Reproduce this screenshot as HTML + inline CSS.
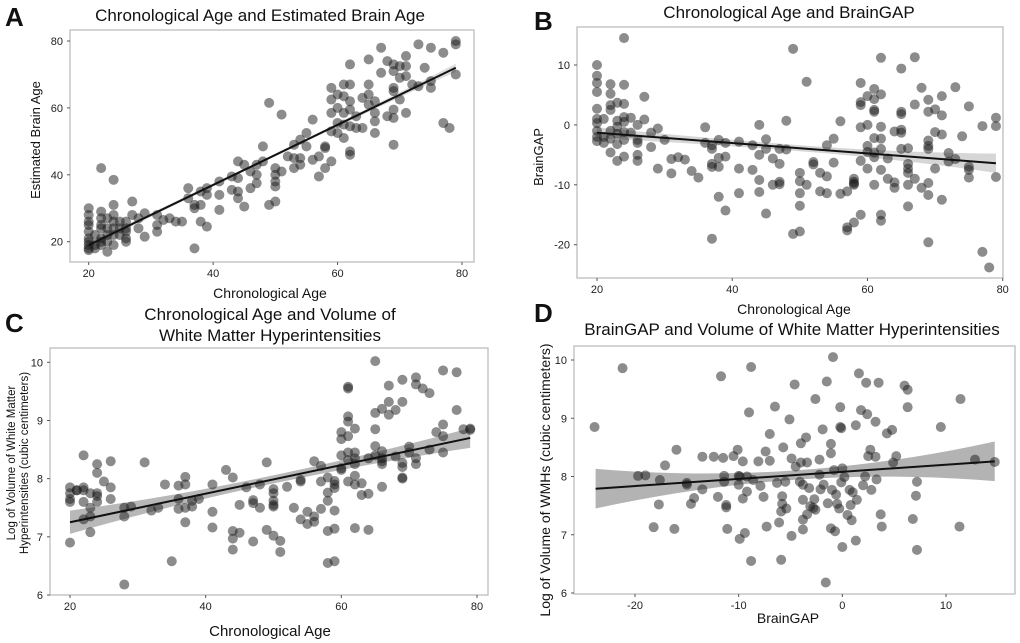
<!DOCTYPE html>
<html><head><meta charset="utf-8"><style>
body{margin:0;background:#fff;width:1020px;height:643px;overflow:hidden;font-family:"Liberation Sans",sans-serif}
svg{display:block}
</style></head><body>
<svg id="fig" width="1020" height="643" viewBox="0 0 1020 643" xmlns="http://www.w3.org/2000/svg"></svg>
<script>
// Panel A data
const aAge=[20,20,20,20,20,20,20,20,20,20,21,21,21,22,22,22,22,22,22,22,22,23,23,23,23,23,24,24,24,24,24,24,24,25,25,25,26,26,26,26,26,27,27,28,28,29,29,31,31,31,32,33,34,35,36,36,37,37,37,38,38,38,39,39,39,41,41,41,43,43,44,44,44,44,45,45,46,46,47,47,47,48,48,49,49,50,50,50,50,50,51,51,52,53,53,53,54,54,54,55,55,56,56,57,57,58,58,58,59,59,59,59,59,60,60,60,60,61,61,61,61,61,62,62,62,62,62,62,62,63,63,64,64,65,65,65,65,66,66,66,66,67,67,68,68,69,69,69,69,69,69,69,70,70,70,71,71,71,71,72,73,73,74,75,75,75,77,77,78,79,79,79];
const aBrain=[30,28,26,25,23,21,20,19,18,17.5,22,19,18,29,27,25,24,21,20,19,42,27,24,22,17,20,31,28,26,24,22,19,38.5,26,24,22,26,24,23,21,20,32,28,27,24,28.5,21.5,28,25,23,26.5,27,26,26,36,33,31,30,18,35,31,26,34,36,24.5,38,34,29.5,39.5,35.5,44,39,35,33,43,30.5,41,36,43,40,37.5,48.5,44,61.5,31,42,40,38,36.5,32,58,41,45.5,49,45,42,50.5,45,43,52.5,48.5,56.5,44.5,45.5,39.5,48.5,48,42,66,62.5,58.5,53,44,64,60,55.5,52.5,67,63.5,58.5,55,51,73,67,62,59.5,54.5,47,46,57.5,54,63,54,74.5,67,64,61,62,58.5,56,52.5,78,70.5,74,57.5,73,71,66,65,59.5,57,49,72.5,69,62.5,75.5,72.5,69.5,58.5,67,66.5,79,72,78,68,66,76.5,55.5,54,80,79,70];
const aFit=[20,19,79,72]; const aBand=[0.8,0.4,1.2];
// Panel B data
const bAge=[20,20,20,20,20,20,20,20,20,20,21,21,21,22,22,22,22,22,22,22,23,23,23,23,23,23,24,24,24,24,24,24,24,24,25,25,26,26,26,26,26,27,27,28,28,29,29,30,31,31,32,33,34,35,36,36,37,37,37,37,37,38,38,38,38,39,39,39,41,41,41,43,43,44,44,44,44,45,45,45,46,46,47,47,47,47,48,48,49,49,50,50,50,50,50,51,51,52,52,53,53,54,54,54,55,55,56,56,57,57,57,58,58,58,58,58,59,59,59,59,59,59,60,60,60,60,60,61,61,61,61,61,61,61,61,62,62,62,62,62,62,62,62,63,63,64,64,64,65,65,65,65,65,65,66,66,66,66,66,66,67,67,67,68,68,69,69,69,69,69,69,69,69,70,70,70,71,71,71,71,72,72,73,73,74,75,75,75,75,77,77,78,79,79,79];
const bGap=[10,8.2,7,5.5,2.7,1,0.3,-1,-2,-2.7,1,-2,-3,6.8,5.2,3.3,2.5,-1,-2.3,-4.6,3.7,0.7,-0.3,-1.5,-3.2,-6,14.5,6.7,3.5,1.3,0.5,-1.2,-2.5,-5.3,1.2,-1.3,0,-2.5,-3,-5,-6,4.7,0.9,-1.3,-3.7,-0.6,-7.3,-2.5,-5.7,-8.1,-5.4,-5.8,-7.7,-8.8,-0.4,-3,-3.4,-4,-6.5,-7,-19,-2.5,-5.5,-7,-12,-3,-5.3,-14.3,-2.8,-7.3,-11.4,-3.4,-7.5,0,-5,-9.2,-11.2,-2.4,-4,-14.8,-5.6,-10,-4,-6.5,-9.5,-9.9,0.7,-4.1,12.7,-18.2,-8,-9.4,-11.4,-13.5,-17.8,7.2,-10,-6.2,-6.6,-8,-11.1,-3.4,-8.6,-11.4,-2.3,-6.3,0.6,-11.5,-11.1,-17.1,-17.6,-9,-9.5,-9.8,-10,-16.3,7,3.8,3.3,-0.4,-6,-15,4.8,0,-3.5,-7.3,-4.5,6,4.3,2.5,2.2,-2.2,-4.6,-5.4,-10,11.2,5.1,-0.3,-2.3,-4,-7.5,-15,-16,-5.6,-9,-1.1,-9.6,-10.5,9.4,2.2,1.8,-0.8,-1.3,-4,-3.9,-6.5,-7.3,-8,-10,-13.6,11.3,3.4,-9,6.2,-10.5,4.2,2.2,-2.6,-3.5,-4,-9.7,-11.7,-19.6,2.6,-1.2,-7.3,4.8,1.6,-1.6,-12.5,-4.7,-6.1,6.3,-5.7,-1.9,3.1,-7,-7.5,-8.8,-0.2,-21.2,-23.8,1.2,-0.2,-8.7];
const bFit=[20,-1.3,79,-6.4]; const bBand=[0.9,0.5,1.6];
// Panel C data
const cAge=[20,20,20,20,20,21,21,22,22,22,22,22,23,23,23,23,24,24,24,24,24,25,26,26,26,28,28,28,29,31,32,33,34,35,36,36,36,37,37,37,37,38,38,39,41,41,41,43,44,44,44,44,45,45,46,47,47,47,48,48,49,49,50,50,50,50,50,50,51,51,52,53,54,54,54,55,55,56,56,56,57,57,57,58,58,58,58,58,59,59,59,59,59,59,60,60,60,60,60,61,61,61,61,61,61,61,61,62,62,62,62,62,62,62,63,63,64,64,64,65,65,65,65,65,66,66,66,66,66,66,67,67,67,68,68,69,69,69,69,69,69,70,70,71,71,71,71,72,73,73,74,75,75,75,75,77,77,78,79,79];
const cWmh=[7.85,7.75,7.65,7.6,6.9,7.8,7.8,8.4,7.85,7.8,7.6,7.3,7.75,7.5,7.35,7.08,8.25,8.1,7.75,7.7,7.6,7.95,8.3,7.85,7.65,7.5,7.35,6.18,7.52,8.28,7.45,7.5,7.9,6.58,7.88,7.65,7.48,8.03,7.9,7.5,7.25,7.62,7.52,7.65,7.9,7.43,7.16,8.15,8.02,7.1,6.97,6.78,7.55,7.07,7.85,7.63,7.58,6.92,7.9,7.5,8.28,7.12,7.82,7.75,7.62,7.55,7.52,7.02,6.93,6.74,7.86,7.5,7.98,7.95,7.3,7.43,7.22,8.3,7.35,7.26,8.22,7.95,7.48,8.02,7.76,7.62,7.1,6.55,7.96,7.9,7.84,7.45,7.14,6.58,8.8,8.68,8.4,8.18,8.15,9.58,9.55,9.07,8.98,8.73,8.45,8.32,7.95,8.86,8.45,8.35,8.25,8.05,7.9,7.15,7.92,7.72,8.35,7.74,7.12,10.02,9.13,8.85,8.56,8.4,9.2,8.47,8.35,8.3,8.25,7.86,9.6,9.32,9.1,9.18,8.38,9.7,9.32,8.27,8.2,8.02,8.0,8.55,8.45,9.74,9.62,8.35,8.25,9.55,9.47,8.5,8.8,9.86,8.93,8.73,8.45,9.83,9.18,8.85,8.86,8.84];
const cFit=[20,7.25,79,8.7]; const cBand=[0.2,0.07,0.17];
// Panel D data
const dGap=[-23.9,-21.2,-19.7,-19,-18.2,-17.7,-17.6,-17.1,-16.2,-16,-15,-15,-14.6,-14.3,-13.5,-13.5,-12.4,-12,-11.7,-11.5,-11.4,-11.4,-11.2,-11.2,-11.1,-10.5,-10.1,-10,-10,-9.9,-9.9,-9.6,-9.6,-9.4,-9.2,-9.2,-9,-8.8,-8.8,-8.6,-8.1,-7.9,-7.6,-7.4,-7.3,-7,-7,-6.5,-6.3,-6.1,-5.9,-5.9,-5.8,-5.8,-5.7,-5.5,-5.4,-5.1,-4.9,-4.9,-4.6,-4.5,-4.1,-4,-4,-3.8,-3.8,-3.8,-3.8,-3.5,-3.4,-3.4,-3.2,-3.1,-2.8,-2.7,-2.6,-2.6,-2.2,-2.2,-2.1,-1.9,-1.8,-1.6,-1.5,-1.4,-1.1,-1.1,-1.1,-1,-0.9,-0.8,-0.7,-0.6,-0.5,-0.3,-0.2,-0.1,-0.2,-0.1,0,0,0.2,0.5,0.7,0.8,0.9,1,1.3,1.3,1.4,1.6,1.8,2,2.2,2.3,2.4,2.5,2.7,2.8,3.2,3.2,3.3,3.5,3.7,3.8,4.3,4.8,4.9,5.2,6,6.3,6.3,6.8,7.1,7.2,7.2,9.5,11.3,11.4,12.8,14.7];
const dWmh=[8.85,9.86,8.01,8.02,7.13,7.52,7.94,8.19,7.1,8.46,7.89,7.86,7.53,7.63,8.34,7.78,8.34,7.65,9.72,8.32,8.01,7.91,7.51,7.47,7.1,8.35,8.46,8.01,7.86,8.0,6.93,8.26,7.62,7.03,8.0,7.74,9.1,9.88,6.55,7.94,8.26,7.84,7.65,8.43,7.14,8.27,8.73,9.2,7.89,7.21,6.57,7.4,7.53,7.66,8.5,7.91,7.45,8.98,6.98,8.31,9.58,8.17,7.91,8.57,8.24,7.86,7.6,7.26,7.09,8.67,8.24,7.35,7.8,7.49,7.46,7.61,9.33,7.43,8.29,8.03,7.78,8.81,7.86,6.18,9.63,7.54,8.56,8.4,7.11,7.77,10.05,8.11,7.06,7.69,7.53,7.45,8.85,8.83,9.19,7.9,8.14,6.79,7.99,7.34,7.77,7.51,7.25,7.73,6.9,8.88,7.6,9.77,9.14,7.85,8.0,9.61,9.07,8.35,8.46,7.77,8.34,8.94,7.95,9.61,7.35,7.14,8.74,8.8,8.24,8.35,9.56,9.49,9.19,7.27,7.67,7.91,6.74,8.85,7.14,9.33,8.29,8.25];
const dFit=[-23.8,7.79,14.7,8.26]; const dBand=[0.34,0.08,0.34];

const NS="http://www.w3.org/2000/svg";
const svg=document.getElementById('fig');
function mk(tag,attrs,parent){const e=document.createElementNS(NS,tag);for(const k in attrs)e.setAttribute(k,attrs[k]);(parent||svg).appendChild(e);return e;}
function txt(s,x,y,size,opts,parent){const t=mk('text',Object.assign({x:x,y:y,'font-size':size,fill:'#111','text-anchor':'middle'},opts||{}),parent);t.textContent=s;return t;}

function panel(p){
  const g=mk('g',{});
  
  
  const sx=v=>p.px0+(v-p.dx0)*(p.px1-p.px0)/(p.dx1-p.dx0);
  const sy=v=>p.py0+(v-p.dy0)*(p.py1-p.py0)/(p.dy1-p.dy0);
  const frame=mk('rect',{x:p.box[0],y:p.box[1],width:p.box[2]-p.box[0],height:p.box[3]-p.box[1],fill:'none',stroke:'#bdbdbd','stroke-width':1.3},g);
  
  
  p.xt.forEach(v=>{
    const l=mk('line',{x1:sx(v),x2:sx(v),y1:p.box[3],y2:p.box[3]+3,stroke:'#555'},g);
    
    
    const t=txt(String(v),sx(v),p.box[3]+15,11,{fill:'#222'},g);
    
    
  });
  p.yt.forEach(v=>{
    const l=mk('line',{x1:p.box[0]-3,x2:p.box[0],y1:sy(v),y2:sy(v),stroke:'#555'},g);
    
    
    const t=txt(String(v),p.box[0]-7,sy(v)+4,11,{fill:'#222','text-anchor':'end'},g);
    
    
  });
  const f=p.fit, n=20, up=[], lo=[];
  for(let i=0;i<=n;i++){
    const x=f[0]+(f[2]-f[0])*i/n, y=f[1]+(f[3]-f[1])*i/n;
    const u=i/n;
    const hw = u<0.5 ? p.band[0]+(p.band[1]-p.band[0])*(1-Math.pow(1-u/0.5,2)) : p.band[1]+(p.band[2]-p.band[1])*Math.pow((u-0.5)/0.5,2);
    up.push(sx(x)+','+sy(y+hw)); lo.unshift(sx(x)+','+sy(y-hw));
  }
  const band=mk('polygon',{points:up.concat(lo).join(' '),fill:p.bandColor,opacity:0.85},g);
  
  
  p.xs.forEach((v,i)=>{
    const c=mk('circle',{cx:sx(v),cy:sy(p.ys[i]),r:5,fill:'#1a1a1a','fill-opacity':0.5},g);
    
    
  });
  const ln=mk('line',{x1:sx(f[0]),y1:sy(f[1]),x2:sx(f[2]),y2:sy(f[3]),stroke:'#111','stroke-width':2},g);
  
  
}

panel({name:'panel-a',box:[70,30,474,262],px0:88.7,px1:462,dx0:20,dx1:80,py0:241.7,py1:41,dy0:20,dy1:80,xt:[20,40,60,80],yt:[20,40,60,80],xs:aAge,ys:aBrain,fit:aFit,band:aBand,bandColor:'#d6d6d6'});
panel({name:'panel-b',box:[577,27,1003,278],px0:597,px1:1002.7,dx0:20,dx1:80,py0:65,py1:244.7,dy0:10,dy1:-20,xt:[20,40,60,80],yt:[10,0,-10,-20],xs:bAge,ys:bGap,fit:bFit,band:bBand,bandColor:'#cfcfcf'});
panel({name:'panel-c',box:[50,348,488,595],px0:70,px1:477,dx0:20,dx1:80,py0:362.3,py1:595,dy0:10,dy1:6,xt:[20,40,60,80],yt:[6,7,8,9,10],xs:cAge,ys:cWmh,fit:cFit,band:cBand,bandColor:'#ababab'});
panel({name:'panel-d',box:[574,346,1015,594],px0:635,px1:946,dx0:-20,dx1:10,py0:360,py1:593,dy0:10,dy1:6,xt:[-20,-10,0,10],yt:[6,7,8,9,10],xs:dGap,ys:dWmh,fit:dFit,band:dBand,bandColor:'#a6a6a6'});

const labels=[
 ['A',5,26,26,{'text-anchor':'start','font-weight':'bold'},'panel-letter-a'],
 ['B',534,30,26,{'text-anchor':'start','font-weight':'bold'},'panel-letter-b'],
 ['C',5,332,26,{'text-anchor':'start','font-weight':'bold'},'panel-letter-c'],
 ['D',534,322,26,{'text-anchor':'start','font-weight':'bold'},'panel-letter-d'],
 ['Chronological Age and Estimated Brain Age',260,21,17,{},'title-a'],
 ['Chronological Age and BrainGAP',789,18,17,{},'title-b'],
 ['Chronological Age and Volume of',270,320,17,{},'title-c-line1'],
 ['White Matter Hyperintensities',270,341,17,{},'title-c-line2'],
 ['BrainGAP and Volume of White Matter Hyperintensities',792,335,17,{},'title-d'],
 ['Chronological Age',270,298,14,{},'x-axis-title-a'],
 ['Chronological Age',794,314,14,{},'x-axis-title-b'],
 ['Chronological Age',270,636,15,{},'x-axis-title-c'],
 ['BrainGAP',788,623,14,{},'x-axis-title-d']
];
labels.forEach(l=>{const t=txt(l[0],l[1],l[2],l[3],l[4]);});
const ylabels=[
 ['Estimated Brain Age',40,140,13,'y-axis-title-a'],
 ['BrainGAP',543,157,13,'y-axis-title-b'],
 ['Log of Volume of White Matter',15,463,11.5,'y-axis-title-c-line1'],
 ['Hyperintensities (cubic centimeters)',28,463,11.5,'y-axis-title-c-line2'],
 ['Log of Volume of WMHs (cubic centimeters)',550,480,14,'y-axis-title-d']
];
ylabels.forEach(l=>{const t=txt(l[0],l[1],l[2],l[3],{transform:'rotate(-90 '+l[1]+' '+l[2]+')'});});
</script>
</body></html>
